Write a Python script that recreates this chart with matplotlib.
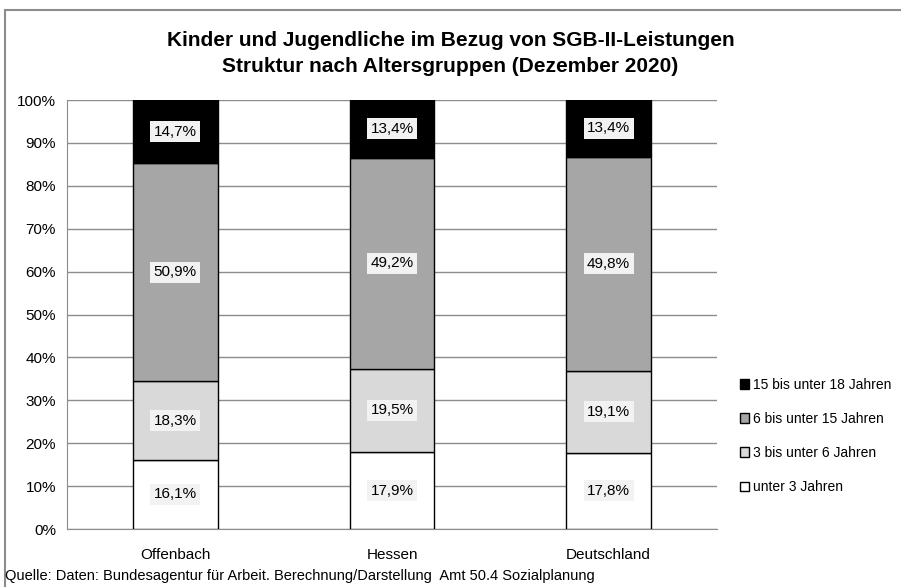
import matplotlib.pyplot as plt
import numpy as np

plt.rcParams['font.family'] = ['Liberation Sans', 'DejaVu Sans']

regions = ["Offenbach", "Hessen", "Deutschland"]
groups = ["unter 3 Jahren", "3 bis unter 6 Jahren", "6 bis unter 15 Jahren", "15 bis unter 18 Jahren"]
unter3 = [16.1, 17.9, 17.8]
von3bis6 = [18.3, 19.5, 19.1]
von6bis15 = [50.9, 49.2, 49.8]
von15bis18 = [14.7, 13.4, 13.4]
colors = ["#ffffff", "#d9d9d9", "#a6a6a6", "#000000"]

fig = plt.figure(figsize=(9.01, 5.87), dpi=100)
ax = fig.add_axes([0.0744, 0.0988, 0.7214, 0.7308])

x = np.arange(len(regions))
bottom = np.zeros(len(regions))
handles = []
for vals, col, name in zip([unter3, von3bis6, von6bis15, von15bis18], colors, groups):
    vals = np.array(vals)
    b = ax.bar(x, vals, 0.39, bottom=bottom, color=col, edgecolor="black", linewidth=1, label=name, zorder=3)
    handles.append(b)
    for xi, v, bt in zip(x, vals, bottom):
        ax.text(xi, bt + v / 2, f"{v:.1f}%".replace(".", ","), ha="center", va="center", fontsize=11,
                zorder=4, bbox=dict(facecolor="#f2f2f2", edgecolor="none", pad=2.5))
    bottom += vals

ax.set_xlim(-0.5, 2.5)
ax.set_ylim(0, 100)
ax.set_yticks(range(0, 101, 10))
ax.set_yticklabels([f"{v}%" for v in range(0, 101, 10)], fontsize=11)
ax.set_xticks(x)
ax.set_xticklabels(regions, fontsize=11)
ax.tick_params(axis="y", length=0, pad=8)
ax.tick_params(axis="x", length=0, pad=14)
ax.grid(axis="y", color="#8c8c8c", linewidth=1, zorder=0)
for s in ax.spines.values():
    s.set_color("#8c8c8c")
ax.spines["top"].set_visible(False)
ax.spines["right"].set_visible(False)

fig.suptitle("Kinder und Jugendliche im Bezug von SGB-II-Leistungen\nStruktur nach Altersgruppen (Dezember 2020)",
             fontsize=15, fontweight="bold", y=0.948, linespacing=1.5)

fig.legend(handles[::-1], groups[::-1], loc="center left", bbox_to_anchor=(0.807, 0.257), frameon=False,
           fontsize=10, handlelength=0.7, handleheight=0.7, handletextpad=0.3, labelspacing=1.45)

fig.text(0.006, 0.006, "Quelle: Daten: Bundesagentur für Arbeit. Berechnung/Darstellung  Amt 50.4 Sozialplanung",
         fontsize=10.5, ha="left", va="bottom")

border = plt.Rectangle((0.005, -0.01), 1.1, 0.993, transform=fig.transFigure, fill=False,
                       edgecolor="#8c8c8c", linewidth=1.5)
fig.add_artist(border)

fig.savefig("out.png", dpi=100)
